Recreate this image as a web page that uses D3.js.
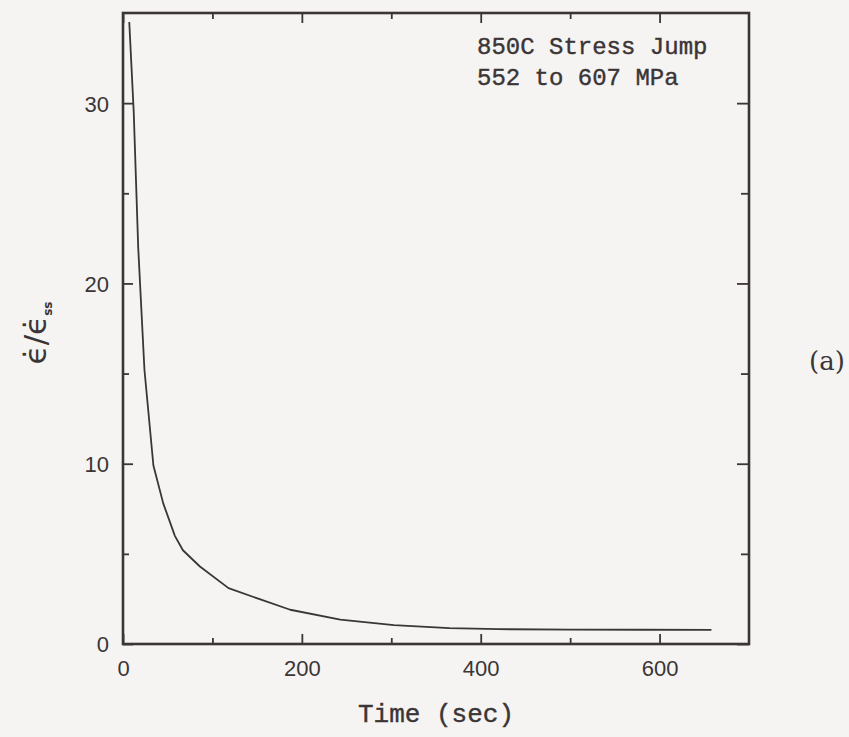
<!DOCTYPE html>
<html>
<head>
<meta charset="utf-8">
<script src="https://cdn.jsdelivr.net/npm/d3@7"></script>
<style>
  html, body { margin: 0; padding: 0; background: #f5f4f3; }
  svg { display: block; }
  .tick text { fill: #3b3536; }
</style>
</head>
<body>
<div id="chart"></div>
<script>
// strain rate ratio after the stress jump
var timeSec   = [7, 12, 17, 24, 34, 45, 58, 67, 86, 118, 152, 187, 243, 303, 365, 420, 500, 580, 658];
var rateRatio = [34.5, 29.5, 22.0, 15.2, 9.9, 7.8, 6.0, 5.2, 4.3, 3.1, 2.5, 1.9, 1.35, 1.05, 0.88, 0.82, 0.80, 0.79, 0.78];

var xMajor = [0, 200, 400, 600];
var xMinor = [100, 300, 500];
var yMajor = [0, 10, 20, 30];
var yMinor = [5, 15, 25];

var noteLines = ["850C Stress Jump", "552 to 607 MPa"];

var W = 849, H = 737;
var ink = "#3b3536";
var pL = 123, pR = 749, pT = 13, pB = 644;

var svg = d3.select("#chart").append("svg")
  .attr("width", W)
  .attr("height", H);

var x = d3.scaleLinear().domain([0, 700]).range([pL, pR]);
var y = d3.scaleLinear().domain([0, 35]).range([pB, pT]);

// ticks point inward on all four sides
function drawAxis(axisFn, scale, vals, size, tx, ty, labels) {
  var g = svg.append("g")
    .attr("transform", "translate(" + tx + "," + ty + ")")
    .call(axisFn(scale).tickValues(vals).tickSizeInner(-size).tickSizeOuter(0)
      .tickFormat(labels ? d3.format("d") : ""));
  g.select(".domain").remove();
  g.selectAll(".tick line").attr("stroke", ink).attr("stroke-width", 1.8);
  return g;
}

var xb = drawAxis(d3.axisBottom, x, xMajor, 10, 0, pB, true);
drawAxis(d3.axisBottom, x, xMinor, 6, 0, pB, false);
drawAxis(d3.axisTop, x, xMajor, 10, 0, pT, false);
drawAxis(d3.axisTop, x, xMinor, 6, 0, pT, false);
var yl = drawAxis(d3.axisLeft, y, yMajor, 10, pL, 0, true);
drawAxis(d3.axisLeft, y, yMinor, 6, pL, 0, false);
drawAxis(d3.axisRight, y, yMajor, 12, pR, 0, false);
drawAxis(d3.axisRight, y, yMinor, 8, pR, 0, false);

xb.selectAll(".tick text")
  .attr("y", 16)
  .attr("dy", "0.71em")
  .style("font-family", "'Liberation Sans', Arial, sans-serif")
  .style("font-size", "22px");

yl.selectAll(".tick text")
  .attr("x", -14)
  .attr("dy", "0.36em")
  .style("font-family", "'Liberation Sans', Arial, sans-serif")
  .style("font-size", "22px");

// frame
svg.append("rect")
  .attr("x", pL).attr("y", pT)
  .attr("width", pR - pL).attr("height", pB - pT)
  .attr("fill", "none")
  .attr("stroke", ink)
  .attr("stroke-width", 2.6);

var line = d3.line()
  .x(function(d, i) { return x(timeSec[i]); })
  .y(function(d) { return y(d); });

svg.append("path")
  .datum(rateRatio)
  .attr("d", line)
  .attr("fill", "none")
  .attr("stroke", ink)
  .attr("stroke-width", 1.8)
  .attr("stroke-linejoin", "round");

// annotation in the upper right
svg.selectAll(".note")
  .data(noteLines)
  .enter()
  .append("text")
  .attr("class", "note")
  .attr("x", 477)
  .attr("y", function(d, i) { return 54 + i * 31; })
  .attr("fill", ink)
  .attr("stroke", ink)
  .attr("stroke-width", 0.4)
  .style("font-family", "'Liberation Mono', 'Courier New', monospace")
  .style("font-size", "24px")
  .text(function(d) { return d; });

// axis titles
svg.append("text")
  .attr("x", (pL + pR) / 2)
  .attr("y", 722)
  .attr("text-anchor", "middle")
  .attr("fill", ink)
  .attr("stroke", ink)
  .attr("stroke-width", 0.4)
  .style("font-family", "'Liberation Mono', 'Courier New', monospace")
  .style("font-size", "26px")
  .text("Time (sec)");

var yt = svg.append("text")
  .attr("transform", "translate(46,333) rotate(-90)")
  .attr("text-anchor", "middle")
  .attr("fill", ink)
  .style("font-family", "'DejaVu Sans', sans-serif")
  .style("font-size", "31px");
yt.append("tspan").text("\u03F5\u0307/\u03F5\u0307");
yt.append("tspan")
  .attr("dy", 6)
  .style("font-size", "12px")
  .style("font-weight", "bold")
  .text("ss");

svg.append("text")
  .attr("x", 809)
  .attr("y", 370)
  .attr("fill", ink)
  .style("font-family", "'DejaVu Serif', serif")
  .style("font-size", "26px")
  .text("(a)");
</script>
</body>
</html>
